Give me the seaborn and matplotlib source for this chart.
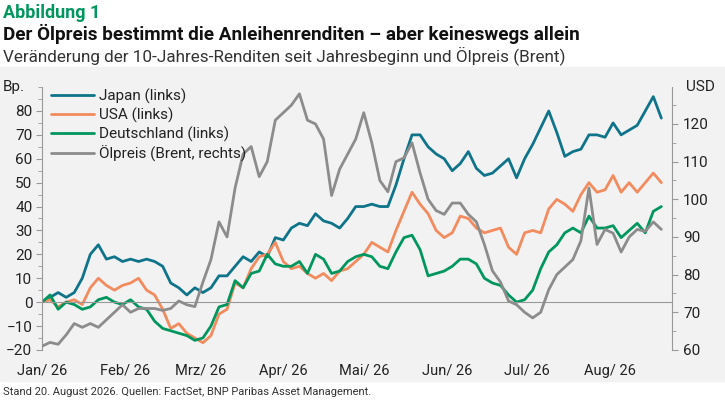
import pandas as pd
import numpy as np
import matplotlib.pyplot as plt
import matplotlib.dates as mdates
import seaborn as sns

# 3-day grid from 1 Jan to 20 Aug 2026
dates = pd.date_range('2026-01-01', periods=78, freq='3D')

japan = [0, 2, 4, 2, 4, 10, 20, 24, 18, 19,
         17, 18, 17, 18, 17, 15, 8, 6, 3, 6,
         4, 6, 11, 11, 15, 19, 17, 21, 19, 27,
         26, 31, 33, 32, 37, 34, 33, 31, 35, 40,
         40, 41, 40, 40, 49, 60, 70, 70, 65, 62,
         60, 55, 58, 63, 56, 53, 54, 57, 60, 52,
         60, 66, 73, 80, 71, 61, 63, 64, 70, 70,
         69, 75, 70, 72, 74, 80, 86, 77]
usa = [0, 1, -2, 0, 1, -1, 6, 10, 7, 5,
       7, 8, 10, 5, 3, -3, -11, -9, -13, -15,
       -17, -14, -5, -3, 8, 6, 14, 19, 20, 25,
       17, 14, 15, 12, 10, 12, 9, 13, 14, 17,
       20, 25, 23, 21, 30, 38, 46, 41, 37, 30,
       27, 29, 36, 35, 31, 29, 30, 31, 23, 20,
       29, 30, 29, 39, 43, 41, 38, 45, 50, 46,
       47, 53, 46, 50, 46, 50, 54, 50]
germany = [0, 3, -3, 0, -1, -3, -2, 1, 2, 0,
           -1, 1, -2, -3, -8, -11, -12, -13, -14, -16,
           -15, -10, -2, -1, 9, 6, 12, 13, 20, 16,
           15, 15, 17, 12, 20, 18, 12, 13, 17, 19,
           20, 19, 15, 14, 21, 27, 28, 22, 11, 12,
           13, 15, 18, 18, 16, 10, 8, 7, 3, 0,
           1, 5, 14, 21, 24, 29, 31, 29, 36, 31,
           31, 32, 27, 30, 33, 29, 38, 40]
oil = [61, 62, 61.5, 64, 67, 66, 67, 66, 68, 70,
       72, 70, 71, 71, 71, 70.5, 71, 73, 72, 71.5,
       78, 84, 94, 90, 103, 112, 114, 106, 110, 121,
       123, 125, 128, 121, 120, 116, 101, 108, 112, 116,
       123, 115, 105, 102, 110, 111, 115, 107, 100, 97,
       96, 99, 99, 96, 94, 88, 81, 78, 73, 72,
       70, 68.5, 70, 76, 80, 82, 84, 89, 103, 88,
       92, 91, 86, 90, 92, 91.5, 94, 92]

month_starts = pd.date_range('2026-01-01', periods=8, freq='MS')
month_labels = ['Jan/ 26', 'Feb/ 26', 'Mrz/ 26', 'Apr/ 26', 'Mai/ 26', 'Jun/ 26', 'Jul/ 26', 'Aug/ 26']

sns.set_style('white')
plt.rcParams['font.family'] = ['Roboto', 'DejaVu Sans']

c_jp, c_us, c_de, c_oil = '#0f7489', '#f28b5e', '#00965e', '#8c8c8c'
txt = '#222222'

fig = plt.figure(figsize=(7.25, 4.05), dpi=100)
fig.patches.append(plt.Rectangle((0, 0.06), 1, 0.775, transform=fig.transFigure,
                                 color='#f2f2f2', zorder=-10))
ax = fig.add_axes([0.058, 0.136, 0.869, 0.649])
ax.set_facecolor('none')
ax2 = ax.twinx()

df = pd.DataFrame({'date': dates, 'Japan (links)': japan, 'USA (links)': usa,
                   'Deutschland (links)': germany, 'oil': oil})

sns.lineplot(data=df, x='date', y='Japan (links)', ax=ax, color=c_jp, lw=2, label='Japan (links)', legend=False)
sns.lineplot(data=df, x='date', y='USA (links)', ax=ax, color=c_us, lw=2, label='USA (links)', legend=False)
sns.lineplot(data=df, x='date', y='Deutschland (links)', ax=ax, color=c_de, lw=2, label='Deutschland (links)', legend=False)
sns.lineplot(data=df, x='date', y='oil', ax=ax2, color=c_oil, lw=2, label='Ölpreis (Brent, rechts)', legend=False)

ax.set_ylim(-20, 90)
ax2.set_ylim(60, 129.8)
ax.set_xlim(pd.Timestamp('2026-01-01'), pd.Timestamp('2026-08-24'))
ax.set_yticks(range(-20, 81, 10))
ax.set_yticks(range(-20, 91, 5), minor=True)
ax2.set_yticks(range(60, 121, 10))
ax2.set_yticks(range(60, 126, 5), minor=True)
ax.set_xlabel('')
ax.set_ylabel('')
ax2.set_ylabel('')

for a in (ax, ax2):
    for s in ('top', 'bottom', 'left', 'right'):
        a.spines[s].set_visible(False)
ax.spines['left'].set_visible(True)
ax.spines['left'].set_color('#999999')
ax.spines['left'].set_bounds(-20, 90)
ax2.spines['right'].set_visible(True)
ax2.spines['right'].set_color('#999999')
ax2.spines['right'].set_bounds(60, 129.8)
ax.spines['bottom'].set_visible(True)
ax.spines['bottom'].set_position(('data', 0))
ax.spines['bottom'].set_color('#999999')

ax.tick_params(axis='y', which='both', color='#999999', length=4, labelsize=11, labelcolor=txt, pad=3)
ax.tick_params(axis='y', which='minor', length=3)
ax2.tick_params(axis='y', which='both', color='#999999', length=4, labelsize=11, labelcolor=txt, pad=4)
ax2.tick_params(axis='y', which='minor', length=3)
ax.xaxis.set_major_locator(mdates.DayLocator(interval=8))
ax.tick_params(axis='x', color='#999999', length=5, labelbottom=False)

for d, lab in zip(month_starts, month_labels):
    ax.text(d, -0.08, lab, transform=ax.get_xaxis_transform(), ha='center', va='center',
            fontsize=10.5, color=txt)
ax.text(-0.045, 1.0, 'Bp.', transform=ax.transAxes, ha='center', va='center', fontsize=11, color=txt)
ax2.text(1.045, 1.0, 'USD', transform=ax2.transAxes, ha='center', va='center', fontsize=11, color=txt)

h1, l1 = ax.get_legend_handles_labels()
h2, l2 = ax2.get_legend_handles_labels()
leg = ax2.legend(h1 + h2, l1 + l2, loc='upper left', bbox_to_anchor=(0.0, 1.03), frameon=False,
                 fontsize=11, handlelength=2.8, handletextpad=0.3, labelspacing=0.25, borderaxespad=0.2)
for t in leg.get_texts():
    t.set_color(txt)

fig.text(0.004, 0.967, 'Abbildung 1', fontsize=13, fontweight='bold', color=c_de, va='center')
fig.text(0.004, 0.915, 'Der Ölpreis bestimmt die Anleihenrenditen – aber keineswegs allein',
         fontsize=13.6, fontweight='bold', color='#111111', va='center')
fig.text(0.004, 0.863, 'Veränderung der 10-Jahres-Renditen seit Jahresbeginn und Ölpreis (Brent)',
         fontsize=12.3, color='#333333', va='center')
fig.text(0.004, 0.02, 'Stand 20. August 2026. Quellen: FactSet, BNP Paribas Asset Management.',
         fontsize=8, color='#333333', va='bottom')

fig.savefig('out.png', dpi=100)
